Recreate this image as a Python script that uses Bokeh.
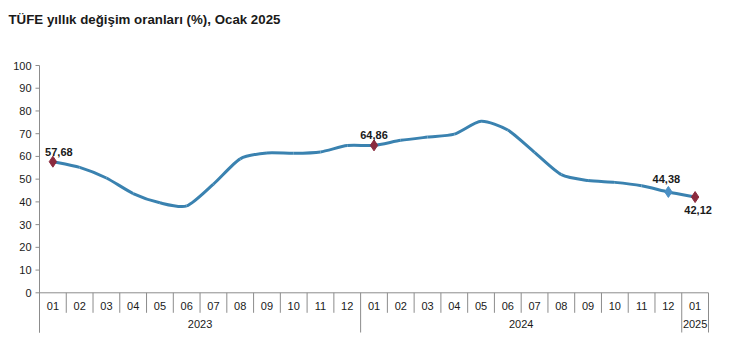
from bokeh.plotting import figure
from bokeh.models import Range1d
from bokeh.core.properties import value
from bokeh.embed import file_html
from bokeh.resources import INLINE

# ---- data ----
months = ["01", "02", "03", "04", "05", "06", "07", "08", "09", "10", "11", "12",
          "01", "02", "03", "04", "05", "06", "07", "08", "09", "10", "11", "12",
          "01"]
years = ["2023", "2024", "2025"]
year_counts = [12, 12, 1]
cpi = [57.68, 55.18, 50.51, 43.68, 39.59, 38.21, 47.83, 58.94, 61.53, 61.36, 61.98, 64.77,
       64.86, 67.07, 68.50, 69.80, 75.45, 71.60, 61.78, 51.97, 49.38, 48.58, 47.09, 44.38,
       42.12]
y_ticks = [0, 10, 20, 30, 40, 50, 60, 70, 80, 90, 100]
labelled_idx = [0, 12, 23, 24]
title_text = "TÜFE yıllık değişim oranları (%), Ocak 2025"

# ---- styles ----
FONT = "Liberation Sans"
LINE_COLOR = "#3A82B0"
RED = "#8B2A3E"
BLUE = "#4A8FC4"
AXIS_GRAY = "#8C8C8C"
TEXT = "#1a1a1a"

W, H = 751, 343
LEFT, TOP, ZERO_Y, AX_BOTTOM = 39, 65, 292.3, 332
n = len(cpi)
ppx = (708 - LEFT) / n
ppy = (ZERO_Y - TOP) / 100.0
y_axis_bottom = -(AX_BOTTOM - ZERO_Y) / ppy

p = figure(width=W, height=H, output_backend="svg", toolbar_location=None,
           x_range=Range1d(-LEFT / ppx, (W - LEFT) / ppx),
           y_range=Range1d(-(H - ZERO_Y) / ppy, 100 + TOP / ppy),
           x_axis_location=None, y_axis_location=None,
           min_border_left=0, min_border_right=0, min_border_top=0, min_border_bottom=0)
p.outline_line_color = None
p.grid.visible = False
p.background_fill_color = "white"
p.border_fill_color = "white"

# title
p.text(x=[-(LEFT - 8) / ppx], y=[100 + (TOP - 19) / ppy], text=[title_text],
       text_font=value(FONT), text_font_size="13.3px", text_font_style="bold",
       text_color=TEXT, text_align="left", text_baseline="middle")

# y axis (drawn manually)
p.segment(x0=[0], y0=[y_axis_bottom], x1=[0], y1=[100], line_color=AXIS_GRAY, line_width=1)
p.segment(x0=[-4 / ppx] * len(y_ticks), y0=y_ticks, x1=[0] * len(y_ticks), y1=y_ticks,
          line_color=AXIS_GRAY, line_width=1)
p.text(x=[0] * len(y_ticks), y=y_ticks, text=[str(v) for v in y_ticks],
       text_font=value(FONT), text_font_size="11px", text_color=TEXT,
       text_align="right", text_baseline="middle", x_offset=-8)

# bottom category axis (drawn manually)
p.segment(x0=[0], y0=[0], x1=[n], y1=[0], line_color=AXIS_GRAY, line_width=1)
bounds = [0]
for c in year_counts:
    bounds.append(bounds[-1] + c)
month_sep = [i for i in range(1, n) if i not in bounds]
p.segment(x0=month_sep, y0=[0] * len(month_sep), x1=month_sep,
          y1=[-20 / ppy] * len(month_sep), line_color=AXIS_GRAY, line_width=1)
p.segment(x0=bounds, y0=[0] * len(bounds), x1=bounds, y1=[y_axis_bottom] * len(bounds),
          line_color=AXIS_GRAY, line_width=1)
p.text(x=[i + 0.5 for i in range(n)], y=[0] * n, text=months,
       text_font=value(FONT), text_font_size="11px", text_color=TEXT,
       text_align="center", text_baseline="middle", y_offset=13)
year_centers = [(bounds[i] + bounds[i + 1]) / 2 for i in range(len(years))]
p.text(x=year_centers, y=[0] * len(years), text=years,
       text_font=value(FONT), text_font_size="11px", text_color=TEXT,
       text_align="center", text_baseline="middle", y_offset=31)

# smoothed line via bezier segments (Catmull-Rom style, mild tension)
xs = [i + 0.5 for i in range(n)]
pts = list(zip(xs, cpi))
x0, y0, x1, y1, cx0, cy0, cx1, cy1 = [], [], [], [], [], [], [], []
t = 0.12
for i in range(n - 1):
    pa = pts[i - 1] if i > 0 else pts[i]
    pb = pts[i]
    pc = pts[i + 1]
    pd = pts[i + 2] if i + 2 < n else pts[i + 1]
    x0.append(pb[0]); y0.append(pb[1])
    x1.append(pc[0]); y1.append(pc[1])
    cx0.append(pb[0] + (pc[0] - pa[0]) * t); cy0.append(pb[1] + (pc[1] - pa[1]) * t)
    cx1.append(pc[0] - (pd[0] - pb[0]) * t); cy1.append(pc[1] - (pd[1] - pb[1]) * t)
p.bezier(x0=x0, y0=y0, x1=x1, y1=y1, cx0=cx0, cy0=cy0, cx1=cx1, cy1=cy1,
         line_color=LINE_COLOR, line_width=3)

# markers
red_idx = [i for i in labelled_idx if months[i] == "01"]
blue_idx = [i for i in labelled_idx if months[i] != "01"]
p.scatter(x=[xs[i] for i in red_idx], y=[cpi[i] for i in red_idx], marker="diamond",
          size=11, fill_color=RED, line_color=RED)
p.scatter(x=[xs[i] for i in blue_idx], y=[cpi[i] for i in blue_idx], marker="diamond",
          size=11, fill_color=BLUE, line_color=BLUE)

# data labels
lab_dx = [6, 0, -2, 3]
lab_dy = [-10, -10, -13, 13]
for k, i in enumerate(labelled_idx):
    p.text(x=[xs[i]], y=[cpi[i]], text=[f"{cpi[i]:.2f}".replace(".", ",")],
           text_font=value(FONT), text_font_size="11px", text_font_style="bold",
           text_color=TEXT, text_align="center", text_baseline="middle",
           x_offset=lab_dx[k], y_offset=lab_dy[k])

open("out.html", "w").write(file_html(p, INLINE))
